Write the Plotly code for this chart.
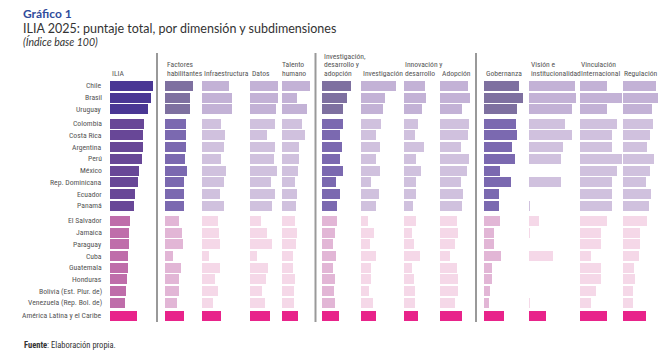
import plotly.graph_objects as go

# ---------------- data ----------------
countries = ["Chile", "Brasil", "Uruguay",
             "Colombia", "Costa Rica", "Argentina", "Perú", "México",
             "Rep. Dominicana", "Ecuador", "Panamá",
             "El Salvador", "Jamaica", "Paraguay", "Cuba", "Guatemala",
             "Honduras", "Bolivia (Est. Plur. de)", "Venezuela (Rep. Bol. de)",
             "América Latina y el Caribe"]
group_sizes = [3, 8, 8, 1]

ilia = [86, 82, 76, 68, 66, 66, 64, 58, 56, 50, 48, 40, 38, 38, 36, 36, 34, 32, 30, 54]
factores_habilitantes = [56, 50, 50, 42, 42, 42, 40, 44, 38, 38, 38, 28, 34, 36, 16, 32, 28, 28, 24, 38]
infraestructura = [54, 60, 60, 38, 46, 44, 38, 48, 44, 36, 44, 32, 34, 36, 14, 36, 26, 32, 22, 38]
datos = [56, 56, 52, 50, 34, 50, 48, 54, 42, 50, 44, 22, 34, 44, 14, 36, 32, 24, 30, 40]
talento_humano = [56, 30, 50, 40, 46, 34, 34, 32, 26, 30, 28, 26, 30, 28, 22, 22, 26, 24, 24, 32]
inv_des_adop = [58, 50, 42, 42, 36, 40, 36, 42, 28, 36, 30, 30, 26, 22, 28, 22, 26, 24, 26, 34]
investigacion = [70, 48, 44, 40, 30, 38, 30, 38, 20, 36, 30, 14, 26, 18, 30, 20, 20, 16, 24, 30]
innovacion = [42, 44, 36, 28, 22, 40, 24, 34, 24, 24, 18, 24, 16, 20, 32, 16, 20, 22, 22, 28]
adopcion = [56, 60, 44, 58, 56, 42, 58, 54, 42, 46, 44, 34, 36, 30, 20, 34, 36, 36, 30, 44]
gobernanza = [70, 78, 66, 64, 66, 56, 62, 32, 54, 30, 30, 32, 20, 20, 34, 16, 16, 12, 10, 40]
vision = [92, 94, 86, 72, 86, 68, 64, 0, 64, 0, 1, 20, 1, 0, 48, 0, 0, 0, 1, 34]
vinculacion = [54, 84, 54, 74, 64, 64, 84, 74, 64, 64, 64, 54, 42, 42, 22, 42, 42, 32, 22, 54]
regulacion = [66, 70, 58, 60, 54, 48, 62, 54, 46, 56, 52, 48, 34, 34, 32, 22, 24, 20, 20, 46]

headers = ["ILIA", "Factores<br>habilitantes", "Infraestructura", "Datos",
           "Talento<br>humano", "Investigación,<br>desarrollo y<br>adopción",
           "Investigación", "Innovación y<br>desarrollo", "Adopción",
           "Gobernanza", "Visión e<br>institucionalidad",
           "Vinculación<br>Internacional", "Regulación"]
series = [ilia, factores_habilitantes, infraestructura, datos, talento_humano,
          inv_des_adop, investigacion, innovacion, adopcion,
          gobernanza, vision, vinculacion, regulacion]
kinds = ["ilia", "dim", "sub", "sub", "sub", "dim", "sub", "sub", "sub",
         "dim", "sub", "sub", "sub"]

# ---------------- styling / layout ----------------
W, H = 668, 359
palette = {
    "ilia": ["#4A3794", "#684797", "#BF6DAA", "#E8238A"],
    "dim": ["#7E70A0", "#7B69B0", "#E2B6D6", "#E8238A"],
    "sub": ["#C3B2D6", "#D0C1DE", "#F5D8E8", "#E8238A"],
}
col_start_px = [110, 165, 202, 250, 282, 322, 361, 404, 440, 484, 529, 580, 623]
col_width_px = [46, 36, 47, 31, 32, 38, 42, 35, 35, 44, 50, 42, 44]
header_x_px = [110, 165, 202, 250, 280, 322, 361, 403, 440, 484, 529, 579, 622]
UNITS_PER_PX = 2.0
divider_px = [157, 315.5, 476]

group_gaps = [0.2, 0.28, 0.11]
PX_PER_ROW = 11.74
FIRST_CENTER_PX = 86
PLOT_TOP_PX, PLOT_BOTTOM_PX = 80, 322
HEADER_BASE_PX = 76.5
HEADER_LINE_PX = 8.6

# row positions and group index
ypos, grp = [], []
offset, row = 0.0, 0
for g, n in enumerate(group_sizes):
    for _ in range(n):
        ypos.append(row + offset)
        grp.append(g)
        row += 1
    if g < len(group_gaps):
        offset += group_gaps[g]

fig = go.Figure()
layout_axes = {}
for k, (vals, kind) in enumerate(zip(series, kinds)):
    ax = "x" if k == 0 else f"x{k + 1}"
    colors = [palette[kind][g] for g in grp]
    fig.add_trace(go.Bar(
        x=vals, y=ypos, orientation="h", width=0.85,
        marker=dict(color=colors, line=dict(width=0)),
        xaxis=ax, yaxis="y", showlegend=False, hoverinfo="x",
    ))
    x0 = col_start_px[k] / W
    x1 = (col_start_px[k] + col_width_px[k]) / W
    layout_axes["xaxis" if k == 0 else f"xaxis{k + 1}"] = dict(
        domain=[x0, x1], range=[0, col_width_px[k] * UNITS_PER_PX],
        anchor="y", showgrid=False, zeroline=False, showticklabels=False,
        showline=False, ticks="", fixedrange=True,
    )

fig.update_layout(**layout_axes)
fig.update_layout(
    yaxis=dict(
        domain=[1 - PLOT_BOTTOM_PX / H, 1 - PLOT_TOP_PX / H],
        range=[(PLOT_BOTTOM_PX - FIRST_CENTER_PX) / PX_PER_ROW,
               (PLOT_TOP_PX - FIRST_CENTER_PX) / PX_PER_ROW],
        visible=False, fixedrange=True, anchor="x",
    ),
    width=W, height=H, autosize=False,
    margin=dict(l=0, r=0, t=0, b=0),
    paper_bgcolor="white", plot_bgcolor="rgba(0,0,0,0)",
    bargap=0,
)

narrow = "Liberation Sans Narrow, Roboto Condensed, Roboto"
label_font = dict(family=narrow, size=7.7, color="#555555")
header_font = dict(family=narrow, size=7.6, color="#555555")
annotations = []
for name, y in zip(countries, ypos):
    annotations.append(dict(
        text=name, x=104 / W, xref="paper", y=y, yref="y",
        xanchor="right", yanchor="middle", showarrow=False, font=label_font,
    ))
for text, hx in zip(headers, header_x_px):
    lines = text.split("<br>")
    n = len(lines)
    for i, ln in enumerate(lines):
        base = HEADER_BASE_PX - (n - 1 - i) * HEADER_LINE_PX
        annotations.append(dict(
            text=ln, x=hx / W, xref="paper", y=1 - (base - 3) / H, yref="paper",
            xanchor="left", yanchor="middle", align="left", showarrow=False,
            font=header_font,
        ))
title_family = "Lato, Open Sans, sans-serif"
annotations += [
    dict(text="<b>Gráfico 1</b>", x=21 / W, y=1 - 13 / H, xref="paper", yref="paper",
         xanchor="left", yanchor="middle", showarrow=False,
         font=dict(family=title_family, size=12, color="#2F4C9C")),
    dict(text="ILIA 2025: puntaje total, por dimensión y subdimensiones",
         x=21 / W, y=1 - 28.5 / H, xref="paper", yref="paper",
         xanchor="left", yanchor="middle", showarrow=False,
         font=dict(family=title_family, size=12.5, color="#333333")),
    dict(text="<i>(Índice base 100)</i>", x=21 / W, y=1 - 41 / H, xref="paper", yref="paper",
         xanchor="left", yanchor="middle", showarrow=False,
         font=dict(family=title_family, size=10.5, color="#333333")),
    dict(text="<b>Fuente</b>: Elaboración propia.", x=22 / W, y=1 - 345 / H,
         xref="paper", yref="paper", xanchor="left", yanchor="middle", showarrow=False,
         font=dict(family=narrow, size=8.5, color="#333333")),
]
fig.update_layout(annotations=annotations)

shapes = []
for dx in divider_px:
    shapes.append(dict(type="line", xref="paper", yref="paper",
                       x0=dx / W, x1=dx / W, y0=1 - 322 / H, y1=1 - 53 / H,
                       line=dict(color="#999999", width=2)))
fig.update_layout(shapes=shapes)

fig.write_html(
    "out.html",
    config={"displayModeBar": False},
    post_script="document.body.style.margin='0';document.body.style.overflow='hidden';",
)
